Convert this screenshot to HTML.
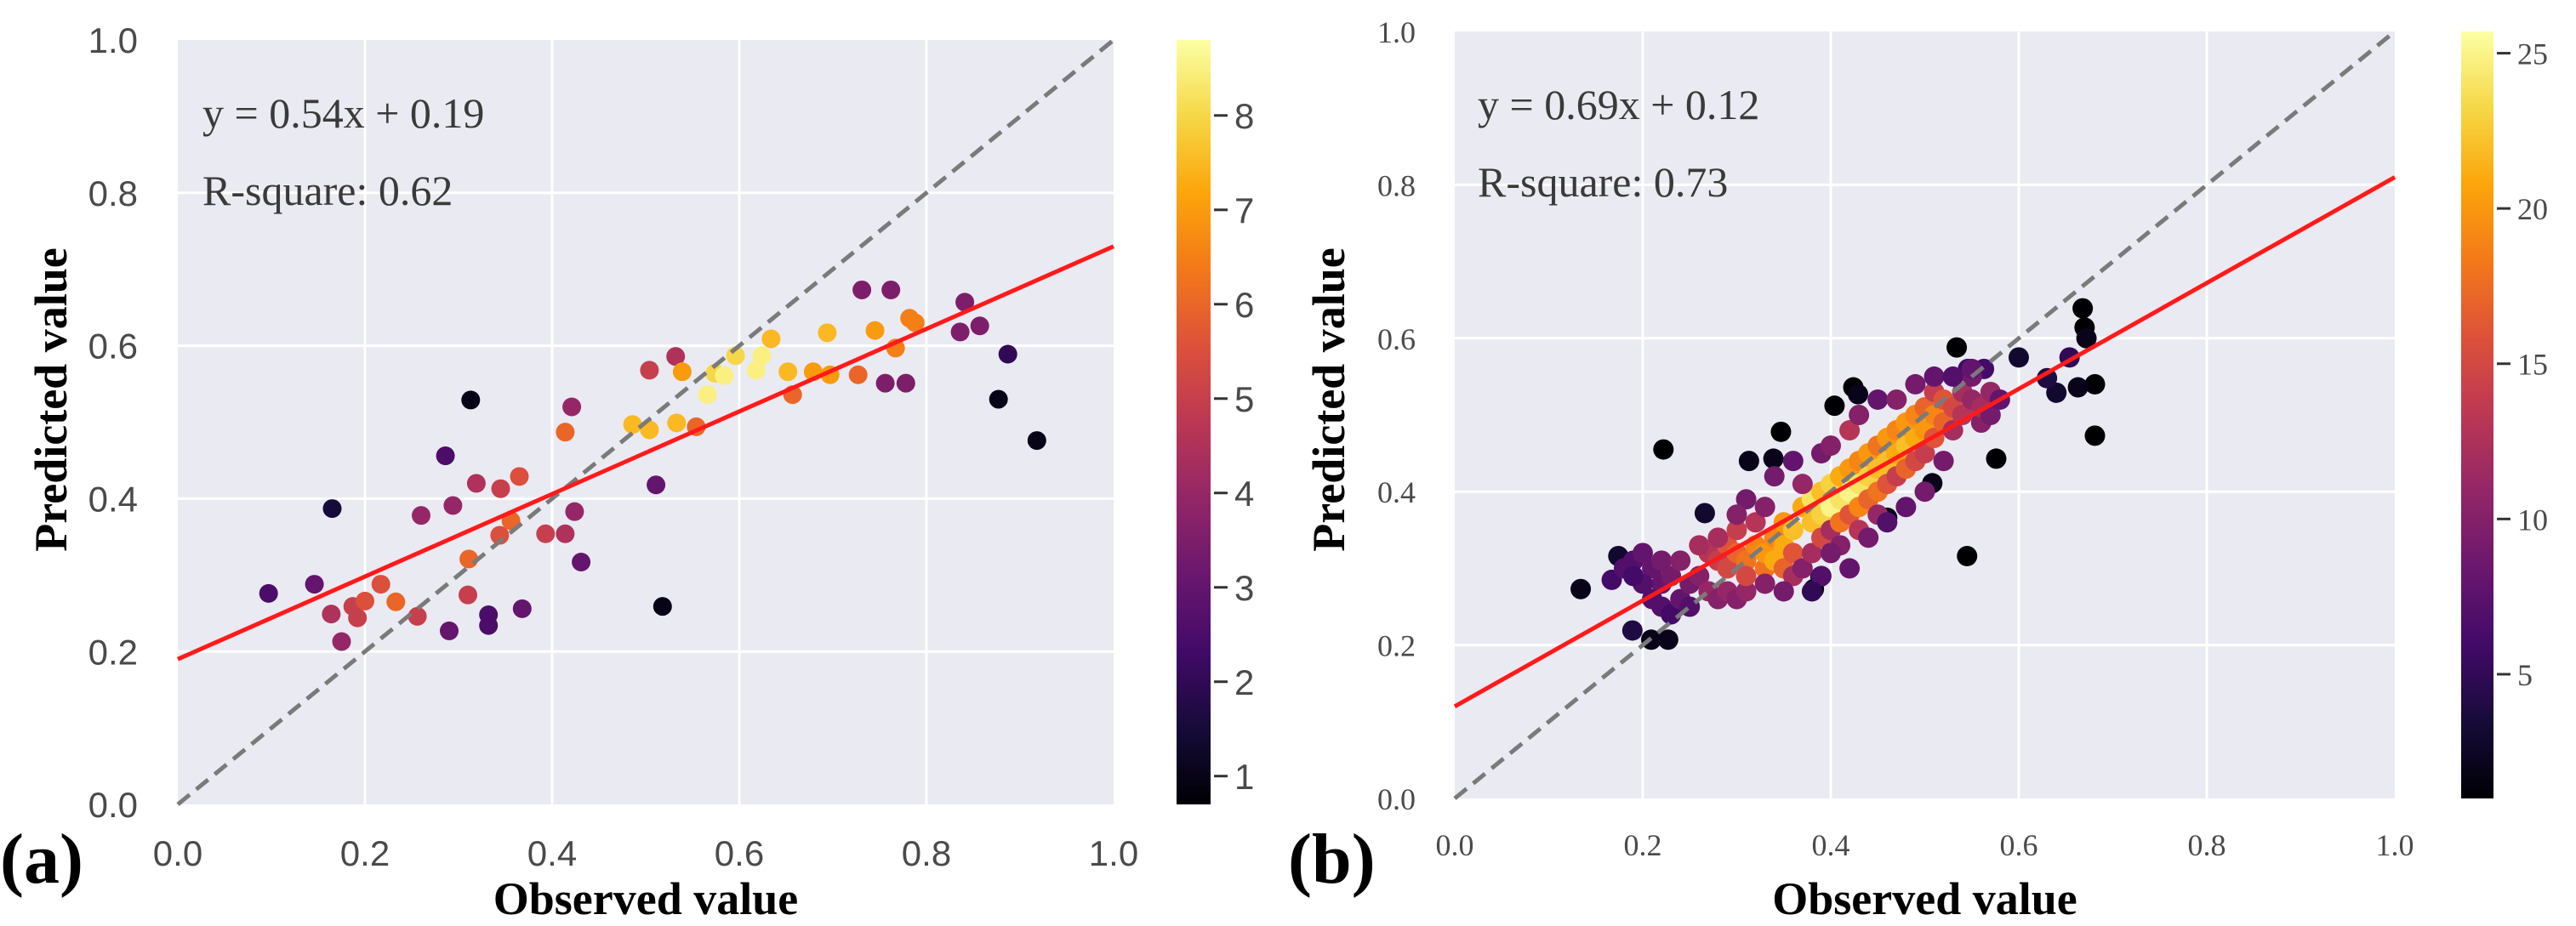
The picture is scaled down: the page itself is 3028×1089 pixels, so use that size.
<!DOCTYPE html>
<html><head><meta charset="utf-8"><style>
html,body{margin:0;padding:0;background:#fff;}
svg{display:block;}
</style></head><body>
<svg id="fig" width="3028" height="1089" xmlns="http://www.w3.org/2000/svg">
<defs>
<linearGradient id="inferno" x1="0" y1="1" x2="0" y2="0">
<stop offset="0" stop-color="#000004"/><stop offset="0.1" stop-color="#160b39"/><stop offset="0.2" stop-color="#420a68"/><stop offset="0.3" stop-color="#6a176e"/><stop offset="0.4" stop-color="#932667"/><stop offset="0.5" stop-color="#bc3754"/><stop offset="0.6" stop-color="#dd513a"/><stop offset="0.7" stop-color="#f37819"/><stop offset="0.8" stop-color="#fca50a"/><stop offset="0.9" stop-color="#f6d746"/><stop offset="1" stop-color="#fcffa4"/>
</linearGradient>
</defs>
</svg>
<script>
// ---- Panel (a) data: [observed, predicted, density]
const obsA = [.097,.146,.165,.164,.175,.187,.192,.200,.217,.233,.256,.260,.290,.286,.294,.310,.311,.313,.319,.332,.332,.345,.344,.356,.365,.368,.393,.414,.414,.421,.424,.431,.511,.518,.486,.504,.504,.533,.554,.532,.539,.566,.574,.584,.596,.618,.624,.634,.652,.657,.679,.694,.697,.727,.731,.745,.756,.762,.767,.778,.782,.788,.836,.841,.857,.877,.887,.918];
const predA = [.276,.288,.387,.249,.213,.259,.244,.266,.288,.265,.246,.378,.227,.456,.391,.274,.321,.529,.420,.248,.234,.413,.352,.371,.429,.256,.354,.354,.487,.520,.383,.317,.418,.259,.497,.490,.568,.499,.494,.586,.566,.536,.564,.561,.587,.568,.587,.609,.566,.536,.566,.617,.562,.562,.673,.620,.551,.673,.597,.551,.636,.630,.618,.657,.626,.530,.589,.476];
const densA = [2.5,3,1.5,4.5,4,5,5,5.5,5.5,6,5,4,3,2.5,4,5,6,1,4.5,2.5,2.5,5,5.5,6,5.5,3,5,4.5,6,4,4,3,3,1,7.5,7.5,5,7.5,6,4.5,7,8.5,8,8.5,8,8.5,8.5,7.5,7.5,6,7,7.5,7,6,3.5,7,3.5,3.5,6.5,3.5,6.5,6.5,3.5,3.5,3.5,1,2,1];
const ticksA = [0.0,0.2,0.4,0.6,0.8,1.0];
const cbTicksA = [1,2,3,4,5,6,7,8];
const fitA = [0.54,0.19];
// ---- Panel (b) data
const obsB = [.134,.174,.167,.189,.209,.227,.222,.266,.313,.339,.347,.382,.389,.404,.424,.429,.460,.508,.534,.545,.576,.600,.668,.670,.672,.681,.681,.663,.640,.630,.654,.563,.546,
.18,.19,.20,.21,.22,.22,.23,.24,.21,.22,.23,.24,.25,.26,.25,.27,.28,.29,.30,.31,.20,.19,
.27,.28,.29,.29,.30,.30,.31,.31,.32,.32,.33,.33,.34,.34,.35,.35,.35,.36,.36,.36,.37,.37,.38,.38,.38,.39,.39,.39,.40,.40,.40,.41,.41,.41,.41,.42,.42,.42,.43,.43,.43,.43,.44,.44,.44,.45,.45,.45,.45,.46,.46,.46,.47,.47,.47,.48,.48,.48,.49,.49,.49,.50,.50,.50,.51,.51,.51,.52,.52,.53,.53,.54,.54,.55,.55,.56,.56,.57,.57,.58,
.31,.33,.34,.36,.37,.39,.40,.42,.43,.45,.47,.49,.51,.53,.55,.40,.42,.44,.46,.48,.50,.52,.35,.33,.30,.28,.26,.39,.38];
const predB = [.273,.316,.285,.219,.207,.207,.455,.372,.440,.443,.478,.273,.289,.512,.536,.527,.366,.411,.588,.316,.443,.575,.639,.614,.600,.540,.473,.536,.529,.548,.575,.560,.560,
.30,.31,.32,.30,.31,.28,.29,.31,.26,.25,.24,.26,.28,.29,.25,.27,.26,.27,.26,.27,.28,.29,
.32,.31,.33,.30,.32,.35,.31,.29,.33,.36,.30,.32,.31,.34,.30,.33,.36,.29,.32,.35,.30,.38,.32,.36,.39,.34,.37,.40,.35,.38,.41,.33,.36,.39,.42,.37,.40,.43,.35,.38,.41,.44,.39,.42,.45,.37,.40,.43,.46,.41,.44,.47,.42,.45,.48,.43,.46,.49,.44,.47,.50,.45,.48,.51,.47,.50,.53,.49,.52,.48,.51,.50,.53,.52,.55,.49,.51,.53,.50,.52,
.39,.38,.42,.44,.41,.45,.46,.48,.50,.52,.52,.54,.55,.55,.56,.32,.30,.34,.36,.38,.40,.44,.27,.28,.37,.34,.33,.29,.27];
const densB = [2,3,6,4,2,2,1,3,2,2,1,2,3,1,1,2,2,2,1,1,1,3,1,1,2,1,1,2,3,4,5,6,6,
7,7,8,8,9,8,9,10,7,7,6,8,9,10,7,11,10,11,10,11,7,6,
13,14,16,15,17,14,18,15,19,13,18,20,21,19,17,21,20,12,16,22,10,21,12,22,24,15,23,22,12,25,23,10,18,24,21,16,25,20,13,19,24,19,17,23,20,11,18,22,18,16,22,20,14,21,19,17,22,20,15,21,19,14,20,17,16,19,14,17,16,12,15,13,12,11,9,10,12,11,9,8,
9,10,9,8,11,9,10,13,10,8,10,9,8,7,8,9,8,9,7,8,9,9,9,10,10,12,12,7,5];
const ticksB = [0.0,0.2,0.4,0.6,0.8,1.0];
const cbTicksB = [5,10,15,20,25];
const fitB = [0.69,0.12];

const NS = 'http://www.w3.org/2000/svg';
const svg = document.getElementById('fig');
const stops = [[0,0,0,4],[.1,22,11,57],[.2,66,10,104],[.3,106,23,110],[.4,147,38,103],[.5,188,55,84],[.6,221,81,58],[.7,243,120,25],[.8,252,165,10],[.9,246,215,70],[1,252,255,164]];
function inferno(t){t=Math.max(0,Math.min(1,t));for(let i=1;i<stops.length;i++){if(t<=stops[i][0]){const a=stops[i-1],b=stops[i],f=(t-a[0])/(b[0]-a[0]);return `rgb(${Math.round(a[1]+f*(b[1]-a[1]))},${Math.round(a[2]+f*(b[2]-a[2]))},${Math.round(a[3]+f*(b[3]-a[3]))})`;}}return 'rgb(252,255,164)';}
function mk(tag,attrs,parent){const e=document.createElementNS(NS,tag);for(const k in attrs)e.setAttribute(k,attrs[k]);(parent||svg).appendChild(e);return e;}

function panel(cfg){
  const g=mk('g',{});
  
  
  const sx=v=>cfg.x0+v*(cfg.x1-cfg.x0), sy=v=>cfg.y0+v*(cfg.y1-cfg.y0);
  const bg=mk('rect',{x:cfg.x0,y:cfg.y1,width:cfg.x1-cfg.x0,height:cfg.y0-cfg.y1,fill:'#eaeaf2'},g);
  
  
  cfg.ticks.forEach(t=>{
    if(t>0&&t<1){
      const gx=mk('line',{x1:sx(t),x2:sx(t),y1:cfg.y1,y2:cfg.y0,stroke:'#fff','stroke-width':3},g);
      
      
      const gy=mk('line',{x1:cfg.x0,x2:cfg.x1,y1:sy(t),y2:sy(t),stroke:'#fff','stroke-width':3},g);
      
      
    }
    const tx=mk('text',{x:sx(t),y:cfg.xTickY,'text-anchor':'middle','font-family':cfg.tickFont,'font-size':cfg.tickSize,fill:'#4a4a4a'},g);
    tx.textContent=t.toFixed(1);
    
    
    const ty=mk('text',{x:cfg.yTickX,y:sy(t)+cfg.tickSize*0.36,'text-anchor':'end','font-family':cfg.tickFont,'font-size':cfg.tickSize,fill:'#4a4a4a'},g);
    ty.textContent=t.toFixed(1);
    
    
  });
  const cmin=cfg.cmin,cmax=cfg.cmax;
  cfg.obs.forEach((o,i)=>{
    const c=mk('circle',{cx:sx(o),cy:sy(cfg.pred[i]),r:cfg.r,fill:inferno((cfg.dens[i]-cmin)/(cmax-cmin))},g);
    
    
  });
  const d=mk('line',{x1:sx(0),y1:sy(0),x2:sx(1),y2:sy(1),stroke:'#7a7a7a','stroke-width':5,'stroke-dasharray':'18 10'},g);
  
  
  const f=mk('line',{x1:sx(0),y1:sy(cfg.fit[1]),x2:sx(1),y2:sy(cfg.fit[0]+cfg.fit[1]),stroke:'#ff1a1a','stroke-width':5},g);
  
  
  const a1=mk('text',{x:cfg.annX,y:cfg.annY1,'font-family':'Liberation Serif, serif','font-size':cfg.annSize,fill:'#3a3a3a'},g);
  a1.textContent=`y = ${cfg.fit[0].toFixed(2)}x + ${cfg.fit[1].toFixed(2)}`;
  
  
  const a2=mk('text',{x:cfg.annX,y:cfg.annY2,'font-family':'Liberation Serif, serif','font-size':cfg.annSize,fill:'#3a3a3a'},g);
  a2.textContent=cfg.r2;
  
  
  const cb=mk('rect',{x:cfg.cbX,y:cfg.y1,width:cfg.cbW,height:cfg.y0-cfg.y1,fill:'url(#inferno)'},g);
  
  
  const cy=v=>cfg.y0-(v-cmin)/(cmax-cmin)*(cfg.y0-cfg.y1);
  cfg.cbTicks.forEach(t=>{
    const tl=mk('line',{x1:cfg.cbX+cfg.cbW+4,x2:cfg.cbX+cfg.cbW+20,y1:cy(t),y2:cy(t),stroke:'#333','stroke-width':3},g);
    
    
    const tt=mk('text',{x:cfg.cbX+cfg.cbW+28,y:cy(t)+cfg.tickSize*0.36,'font-family':cfg.tickFont,'font-size':cfg.tickSize,fill:'#4a4a4a'},g);
    tt.textContent=t;
    
    
  });
  const xl=mk('text',{x:(cfg.x0+cfg.x1)/2,y:1075,'text-anchor':'middle','font-family':'Liberation Serif, serif','font-weight':'bold','font-size':54,fill:'#000'},g);
  xl.textContent='Observed value';
  
  
  const yl=mk('text',{x:0,y:0,'text-anchor':'middle','font-family':'Liberation Serif, serif','font-weight':'bold','font-size':54,fill:'#000',transform:`translate(${cfg.yLabelX},470) rotate(-90)`},g);
  yl.textContent='Predicted value';
  
  
  const pl=mk('text',{x:cfg.panelX,y:1038,'font-family':'Liberation Serif, serif','font-weight':'bold','font-size':84,fill:'#000'},g);
  pl.textContent=cfg.letter;
  
  
}
panel({name:'panel-a',x0:209,x1:1309,y0:946,y1:47,ticks:ticksA,obs:obsA,pred:predA,dens:densA,cmin:0.7,cmax:8.8,fit:fitA,r:11,
  tickFont:'Liberation Sans, sans-serif',tickSize:42,xTickY:1018,yTickX:162,annX:238,annY1:150,annY2:241,annSize:50,r2:'R-square: 0.62',
  cbX:1383,cbW:40,cbTicks:cbTicksA,yLabelX:78,panelX:0,letter:'(a)'});
panel({name:'panel-b',x0:1710,x1:2815,y0:939,y1:37,ticks:ticksB,obs:obsB,pred:predB,dens:densB,cmin:1.0,cmax:25.7,fit:fitB,r:12,
  tickFont:'Liberation Serif, serif',tickSize:36,xTickY:1006,yTickX:1664,annX:1737,annY1:140,annY2:231,annSize:50,r2:'R-square: 0.73',
  cbX:2893,cbW:38,cbTicks:cbTicksB,yLabelX:1580,panelX:1514,letter:'(b)'});
</script>
</body></html>
